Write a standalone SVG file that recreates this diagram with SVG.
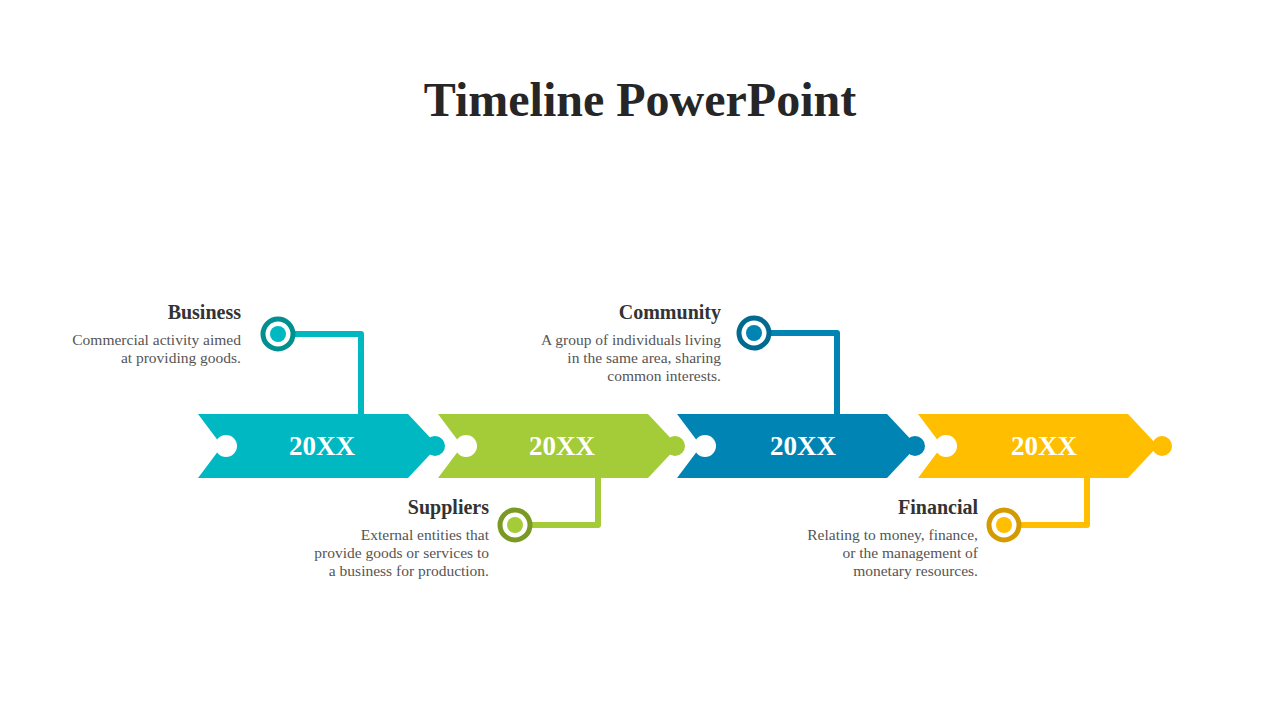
<svg xmlns="http://www.w3.org/2000/svg" width="1280" height="720" viewBox="0 0 1280 720">
<style>
.t{font-family:"Liberation Serif","DejaVu Serif",serif;}
.title{font-size:48px;font-weight:bold;fill:#262626;text-anchor:middle}
.h{font-size:20px;font-weight:bold;fill:#333;text-anchor:end}
.b{font-size:15.5px;fill:#555;text-anchor:end}
.yr{font-size:27px;font-weight:bold;fill:#fff;text-anchor:middle}
.ln{fill:none;stroke-width:6;stroke-linejoin:round}
</style>
<defs>
<path id="arrow" d="M0,0 H210 L240,32 L210,64 H0 L24,32 Z"/>
</defs>
<rect width="1280" height="720" fill="#fff"/>
<text class="t title" x="640" y="116">Timeline PowerPoint</text>
<g id="connectors">
<path class="ln" stroke="#00B8C2" d="M290,334 H361 V416"/>
<path class="ln" stroke="#A4CB38" d="M527,525 H598 V476"/>
<path class="ln" stroke="#0084B4" d="M766,333 H837 V416"/>
<path class="ln" stroke="#FFBF00" d="M1016,525 H1087 V476"/>
</g>
<g id="step1">
<use href="#arrow" x="198" y="414" fill="#00B8C2"/>
<circle cx="226" cy="446" r="11" fill="#fff"/>
<circle cx="435" cy="446" r="10" fill="#00B8C2"/>
<text class="t yr" x="322" y="455">20XX</text>
<circle cx="278" cy="334" r="15" fill="#fff" stroke="#00908F" stroke-width="5"/>
<circle cx="278" cy="334" r="8" fill="#00B8C2"/>
<text class="t h" x="241" y="319">Business</text>
<text class="t b" x="241" y="345">Commercial activity aimed</text>
<text class="t b" x="241" y="363">at providing goods.</text>
</g>
<g id="step2">
<use href="#arrow" x="438" y="414" fill="#A4CB38"/>
<circle cx="466" cy="446" r="11" fill="#fff"/>
<circle cx="675" cy="446" r="10" fill="#A4CB38"/>
<text class="t yr" x="562" y="455">20XX</text>
<circle cx="515" cy="525" r="15" fill="#fff" stroke="#7A9A25" stroke-width="5"/>
<circle cx="515" cy="525" r="8" fill="#A4CB38"/>
<text class="t h" x="489" y="514">Suppliers</text>
<text class="t b" x="489" y="540">External entities that</text>
<text class="t b" x="489" y="558">provide goods or services to</text>
<text class="t b" x="489" y="576">a business for production.</text>
</g>
<g id="step3">
<use href="#arrow" x="677" y="414" fill="#0084B4"/>
<circle cx="705" cy="446" r="11" fill="#fff"/>
<circle cx="915" cy="446" r="10" fill="#0084B4"/>
<text class="t yr" x="803" y="455">20XX</text>
<circle cx="754" cy="333" r="15" fill="#fff" stroke="#006A90" stroke-width="5"/>
<circle cx="754" cy="333" r="8" fill="#0084B4"/>
<text class="t h" x="721" y="319">Community</text>
<text class="t b" x="721" y="345">A group of individuals living</text>
<text class="t b" x="721" y="363">in the same area, sharing</text>
<text class="t b" x="721" y="381">common interests.</text>
</g>
<g id="step4">
<use href="#arrow" x="918" y="414" fill="#FFBF00"/>
<circle cx="946" cy="446" r="11" fill="#fff"/>
<circle cx="1162" cy="446" r="10" fill="#FFBF00"/>
<text class="t yr" x="1044" y="455">20XX</text>
<circle cx="1004" cy="525" r="15" fill="#fff" stroke="#D49B00" stroke-width="5"/>
<circle cx="1004" cy="525" r="8" fill="#FFBF00"/>
<text class="t h" x="978" y="514">Financial</text>
<text class="t b" x="978" y="540">Relating to money, finance,</text>
<text class="t b" x="978" y="558">or the management of</text>
<text class="t b" x="978" y="576">monetary resources.</text>
</g>
</svg>
